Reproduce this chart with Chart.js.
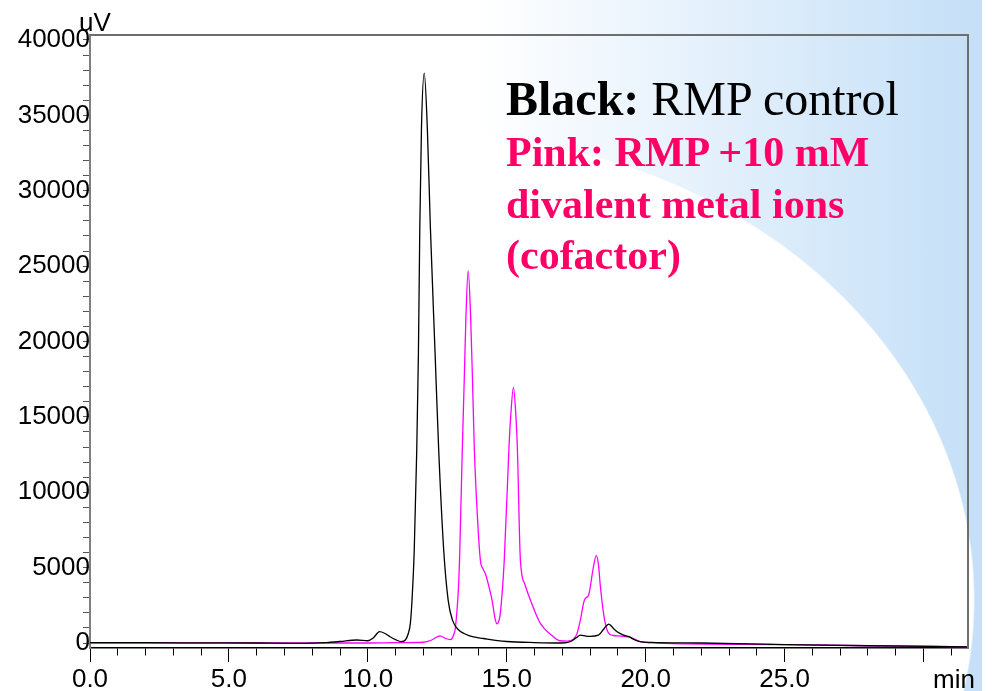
<!DOCTYPE html>
<html>
<head>
<meta charset="utf-8">
<script src="https://cdn.jsdelivr.net/npm/chart.js@4"></script>
<style>
  html, body { margin: 0; padding: 0; background: #fff; }
  #wrap {
    position: relative; width: 994px; height: 691px; overflow: hidden;
    background:
      radial-gradient(ellipse 545px 466px at 430px 600px, #fff 99.7%, rgba(255,255,255,0) 100%),
      linear-gradient(90deg, #fff 0px, #fff 480px, #c4dff7 982px);
    background-size: 100% 100%, 982px 100%;
    background-repeat: no-repeat;
  }
  canvas { position: absolute; left: 0; top: 0; }
  .lbl { position: absolute; font-family: 'Liberation Sans', Arial, sans-serif; font-size: 26px; line-height: 30px; color: #000; white-space: nowrap; }
  .note { position: absolute; left: 506px; font-family: 'Liberation Serif', 'Times New Roman', serif; white-space: nowrap; }
  .black { top: 71px; font-size: 48px; line-height: 55px; color: #000; }
  .pink { top: 127px; font-size: 42px; line-height: 51.5px; color: #ff0066; font-weight: bold; }
</style>
</head>
<body>
<div id="wrap">
  <canvas id="chart" width="994" height="691"></canvas>
  <div class="lbl" style="left:79px; top:7px;">uV</div>
  <div class="lbl" style="left:933px; top:664px;">min</div>
  <div class="note black"><b>Black:</b> RMP control</div>
  <div class="note pink">Pink: RMP +10 mM<br>divalent metal ions<br>(cofactor)</div>
</div>
<script>
// retention time (min) and detector signal (uV)
const blackTimes = [0, 2, 4, 6, 7.5, 8.5, 9, 9.6, 10, 10.2, 10.42, 10.6, 10.8, 11, 11.2, 11.35, 11.45, 11.53, 11.59, 11.67, 11.76, 11.82, 11.87, 11.93, 12.03,
  12.14, 12.25, 12.42, 12.55, 12.73, 12.89, 13.05, 13.25, 13.5, 13.8, 14.16, 14.6, 15, 16, 17, 17.3, 17.5, 17.65, 17.85, 18, 18.3, 18.5, 18.67,
  18.85, 18.97, 19.2, 19.4, 19.57, 19.8, 20.2, 22, 25, 28, 31.6];
const blackValues = [20, 20, 10, 0, -20, 30, 100, 200, 150, 350, 750, 650, 420, 220, 90, 200, 600, 1300, 2850, 6170, 12800, 19200, 27600, 34200, 37800,
  34200, 27600, 19200, 12800, 6170, 2850, 1500, 900, 600, 400, 300, 180, 100, 30, 0, 100, 350, 530, 460, 440, 520, 950, 1260,
  950, 750, 530, 420, 240, 90, 40, 0, -100, -180, -250];

const pinkTimes = [0, 5, 10, 11, 12, 12.3, 12.6, 12.8, 12.97, 13.1, 13.15, 13.27, 13.3, 13.4, 13.47, 13.53, 13.61, 13.7, 13.77, 13.83, 13.94, 14.05,
  14.15, 14.23, 14.35, 14.47, 14.58, 14.65, 14.72, 14.77, 14.91, 15.08, 15.14, 15.24, 15.33, 15.38, 15.49, 15.65, 15.85, 16.2, 16.68, 16.9,
  17.17, 17.4, 17.53, 17.65, 17.77, 17.83, 17.95, 18.1, 18.22, 18.3, 18.37, 18.52, 18.67, 18.85, 19.1, 19.45, 19.8, 20.4, 25, 28, 31.6];
const pinkValues = [0, 0, 0, 20, 50, 200, 480, 300, 230, 600, 1000, 3960, 5500, 12900, 17500, 21600, 24700, 21600, 17200, 13000, 8500, 5500,
  4900, 4600, 3800, 2850, 1600, 1270, 1500, 2000, 5500, 13000, 15000, 16950, 15000, 13000, 5500, 3900, 2850, 1330, 420, 150,
  120, 250, 640, 1530, 2700, 2960, 3200, 4840, 5800, 5200, 3730, 1530, 640, 500, 460, 380, 90, 0, -100, -180, -250];

const xTickLabels = ['0.0', '5.0', '10.0', '15.0', '20.0', '25.0'];
const yTickLabels = ['0', '5000', '10000', '15000', '20000', '25000', '30000', '35000', '40000'];

const toPoints = (ts, vs) => ts.map((t, i) => ({ x: t, y: vs[i] }));
const tickFont = { family: "'Liberation Sans', Arial, sans-serif", size: 26 };

const framePlugin = {
  id: 'frame',
  afterDraw(chart) {
    const { ctx, chartArea: a } = chart;
    ctx.save();
    ctx.strokeStyle = '#6e6e6e';
    ctx.lineWidth = 2;
    ctx.beginPath();
    ctx.moveTo(a.left, a.top);
    ctx.lineTo(a.right, a.top);
    ctx.lineTo(a.right, a.bottom);
    ctx.stroke();
    ctx.restore();
  }
};

new Chart(document.getElementById('chart'), {
  type: 'line',
  data: {
    datasets: [
      { label: 'RMP control', data: toPoints(blackTimes, blackValues), borderColor: '#000', borderWidth: 1.3,
        pointRadius: 0, cubicInterpolationMode: 'monotone' },
      { label: 'RMP +10 mM divalent metal ions', data: toPoints(pinkTimes, pinkValues), borderColor: '#ff00ff', borderWidth: 1.3,
        pointRadius: 0, cubicInterpolationMode: 'monotone' }
    ]
  },
  options: {
    responsive: false,
    animation: false,
    devicePixelRatio: 1,
    layout: { padding: { top: 35, right: 26, left: 0, bottom: 0 } },
    plugins: { legend: { display: false }, tooltip: { enabled: false } },
    scales: {
      x: {
        type: 'linear',
        min: 0,
        max: 31.6,
        afterFit: s => { s.height = 43; },
        ticks: {
          stepSize: 1,
          includeBounds: false,
          autoSkip: false,
          maxRotation: 0,
          padding: 2,
          color: '#000',
          font: tickFont,
          callback: v => (v % 5 === 0 && v <= 25) ? xTickLabels[v / 5] : ''
        },
        grid: {
          drawOnChartArea: false,
          tickLength: 14,
          color: '#000',
          tickBorderDash: c => (c.tick && c.tick.value % 5 === 0) ? [] : [7, 30]
        },
        border: { color: '#000', width: 1.5 }
      },
      y: {
        type: 'linear',
        min: -330,
        max: 40330,
        afterFit: s => { s.width = 90; },
        afterBuildTicks: s => {
          const t = [];
          for (let v = 0; v <= 40000; v += 1000) t.push({ value: v });
          s.ticks = t;
        },
        ticks: {
          autoSkip: false,
          crossAlign: 'near',
          padding: -7,
          color: '#000',
          font: tickFont,
          callback: v => Math.round(v) % 5000 === 0 ? yTickLabels[Math.round(v) / 5000] : ''
        },
        grid: { drawOnChartArea: false, tickLength: 7, color: '#555' },
        border: { color: '#808080', width: 2 }
      }
    }
  },
  plugins: [framePlugin]
});
</script>
</body>
</html>
